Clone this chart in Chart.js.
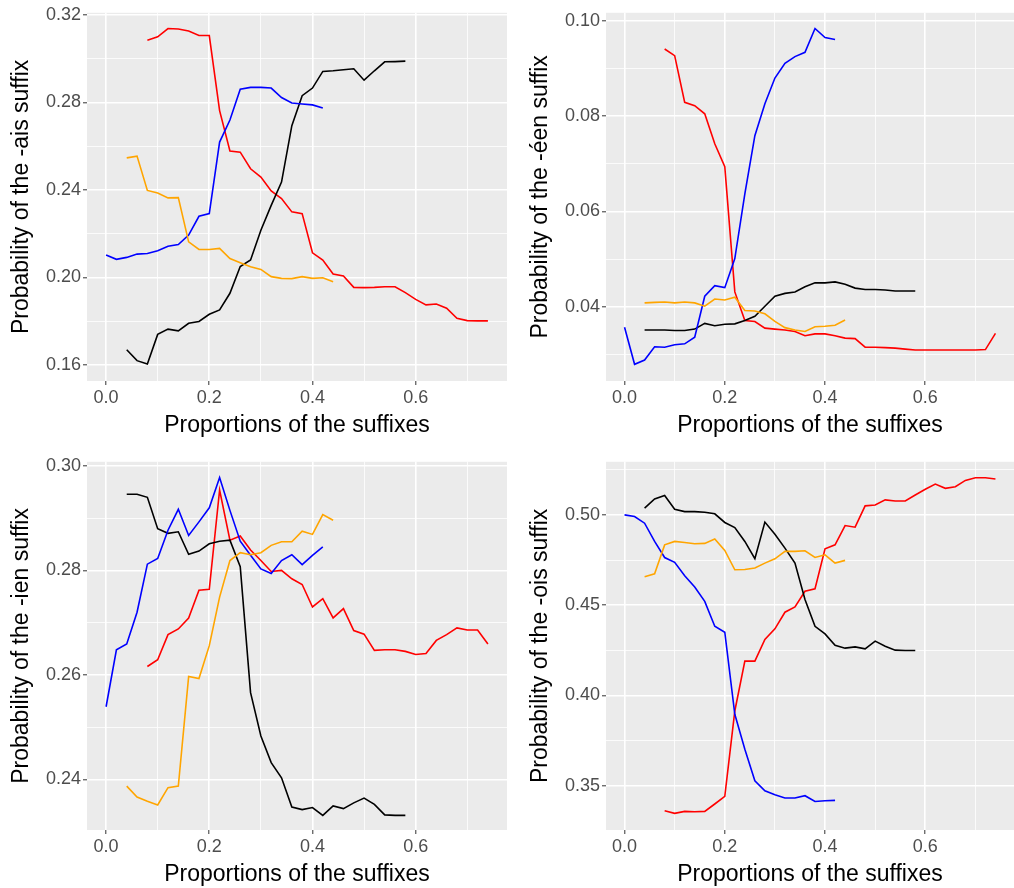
<!DOCTYPE html>
<html>
<head>
<meta charset="utf-8">
<script src="https://cdn.jsdelivr.net/npm/chart.js@4.4.0/dist/chart.umd.min.js"></script>
<style>
  body { margin: 0; background: #fff; overflow: hidden; }
  canvas { position: absolute; }
</style>
</head>
<body>
<canvas id="c1" width="507" height="444" style="left:0;top:0"></canvas>
<canvas id="c2" width="495" height="444" style="left:519px;top:0"></canvas>
<canvas id="c3" width="507" height="444" style="left:0;top:449px"></canvas>
<canvas id="c4" width="495" height="444" style="left:519px;top:449px"></canvas>
<script>
// x positions (proportions of the suffixes) for each series
const xBlue = [0, 0.02, 0.04, 0.06, 0.08, 0.10, 0.12, 0.14, 0.16, 0.18, 0.20, 0.22, 0.24, 0.26, 0.28, 0.30, 0.32, 0.34, 0.36, 0.38, 0.40, 0.42];
const xBlack = [0.04, 0.06, 0.08, 0.10, 0.12, 0.14, 0.16, 0.18, 0.20, 0.22, 0.24, 0.26, 0.28, 0.30, 0.32, 0.34, 0.36, 0.38, 0.40, 0.42, 0.44, 0.46, 0.48, 0.50, 0.52, 0.54, 0.56, 0.58];
const xOrange = [0.04, 0.06, 0.08, 0.10, 0.12, 0.14, 0.16, 0.18, 0.20, 0.22, 0.24, 0.26, 0.28, 0.30, 0.32, 0.34, 0.36, 0.38, 0.40, 0.42, 0.44];
const xRed = [0.08, 0.10, 0.12, 0.14, 0.16, 0.18, 0.20, 0.22, 0.24, 0.26, 0.28, 0.30, 0.32, 0.34, 0.36, 0.38, 0.40, 0.42, 0.44, 0.46, 0.48, 0.50, 0.52, 0.54, 0.56, 0.58, 0.60, 0.62, 0.64, 0.66, 0.68, 0.70, 0.72, 0.74];

const xTicks = [0, 0.2, 0.4, 0.6];
const xMinor = [0.1, 0.3, 0.5, 0.7];

// -ais
const aisBlue = [0.2103,0.2083,0.2092,0.2107,0.2110,0.2122,0.2143,0.2151,0.2194,0.2280,0.2292,0.2619,0.2720,0.2861,0.2869,0.2869,0.2866,0.2823,0.2798,0.2793,0.2789,0.2775];
const aisBlack = [0.1670,0.1620,0.1605,0.1740,0.1764,0.1756,0.1791,0.1799,0.1832,0.1852,0.1928,0.2050,0.2080,0.2216,0.2330,0.2436,0.2694,0.2831,0.2866,0.2942,0.2945,0.2950,0.2954,0.2902,0.2945,0.2986,0.2987,0.2989];
const aisOrange = [0.2547,0.2555,0.2398,0.2386,0.2364,0.2365,0.2163,0.2128,0.2128,0.2133,0.2087,0.2068,0.2049,0.2037,0.2004,0.1996,0.1995,0.2004,0.1996,0.1999,0.1981];
const aisRed = [0.3085,0.3100,0.3138,0.3136,0.3127,0.3106,0.3106,0.2763,0.2578,0.2573,0.2497,0.2459,0.2396,0.2361,0.2300,0.2292,0.2113,0.2080,0.2016,0.2007,0.1955,0.1954,0.1955,0.1958,0.1958,0.1931,0.1900,0.1875,0.1879,0.1860,0.1814,0.1803,0.1802,0.1802];
const aisTicks = [0.16, 0.20, 0.24, 0.28, 0.32];
const aisMinor = [0.18, 0.22, 0.26, 0.30];

// -éen
const eenBlue = [0.0357,0.0279,0.0288,0.0316,0.0315,0.0320,0.0322,0.0336,0.0422,0.0444,0.0440,0.0501,0.0637,0.0759,0.0826,0.0880,0.0911,0.0925,0.0934,0.0984,0.0965,0.0961];
const eenBlack = [0.0351,0.0351,0.0351,0.0350,0.0350,0.0353,0.0365,0.0360,0.0363,0.0364,0.0371,0.0380,0.0401,0.0422,0.0428,0.0431,0.0442,0.0450,0.0450,0.0452,0.0447,0.0439,0.0436,0.0436,0.0435,0.0433,0.0433,0.0433];
const eenOrange = [0.0408,0.0409,0.0410,0.0408,0.0410,0.0408,0.0401,0.0416,0.0414,0.0420,0.0392,0.0391,0.0385,0.0369,0.0356,0.0351,0.0348,0.0358,0.0359,0.0361,0.0372];
const eenRed = [0.0941,0.0927,0.0829,0.0822,0.0805,0.0742,0.0694,0.0431,0.0371,0.0369,0.0355,0.0353,0.0351,0.0348,0.0339,0.0343,0.0343,0.0339,0.0334,0.0333,0.0315,0.0315,0.0314,0.0313,0.0311,0.0309,0.0309,0.0309,0.0309,0.0309,0.0309,0.0309,0.0310,0.0344];
const eenTicks = [0.04, 0.06, 0.08, 0.10];
const eenMinor = [0.03, 0.05, 0.07, 0.09];

// -ien
const ienBlue = [0.2539,0.2648,0.2659,0.2720,0.2812,0.2823,0.2877,0.2917,0.2867,0.2893,0.2920,0.2978,0.2915,0.2856,0.2829,0.2803,0.2794,0.2819,0.2830,0.2811,0.2829,0.2845];
const ienBlack = [0.2946,0.2946,0.2940,0.2880,0.2871,0.2874,0.2831,0.2837,0.2851,0.2856,0.2858,0.2807,0.2566,0.2483,0.2432,0.2403,0.2347,0.2342,0.2346,0.2331,0.2349,0.2344,0.2355,0.2364,0.2352,0.2332,0.2331,0.2331];
const ienOrange = [0.2387,0.2366,0.2358,0.2351,0.2384,0.2387,0.2597,0.2593,0.2656,0.2749,0.2819,0.2834,0.2830,0.2834,0.2848,0.2855,0.2855,0.2875,0.2869,0.2907,0.2896];
const ienRed = [0.2616,0.2629,0.2677,0.2688,0.2709,0.2762,0.2764,0.2954,0.2858,0.2866,0.2839,0.2819,0.2798,0.2800,0.2784,0.2773,0.2730,0.2746,0.2709,0.2727,0.2685,0.2678,0.2647,0.2648,0.2648,0.2645,0.2639,0.2641,0.2666,0.2677,0.2690,0.2686,0.2686,0.2659];
const ienTicks = [0.24, 0.26, 0.28, 0.30];
const ienMinor = [0.25, 0.27, 0.29];

// -ois
const oisBlue = [0.5000,0.4991,0.4954,0.4853,0.4764,0.4737,0.4663,0.4601,0.4521,0.4383,0.4350,0.3896,0.3702,0.3528,0.3472,0.3450,0.3432,0.3432,0.3445,0.3413,0.3417,0.3419];
const oisBlack = [0.5037,0.5088,0.5107,0.5031,0.5018,0.5018,0.5015,0.5006,0.4958,0.4930,0.4853,0.4757,0.4960,0.4893,0.4816,0.4733,0.4531,0.4383,0.4341,0.4278,0.4262,0.4269,0.4258,0.4301,0.4273,0.4251,0.4249,0.4249];
const oisOrange = [0.4658,0.4674,0.4834,0.4853,0.4847,0.4840,0.4842,0.4866,0.4803,0.4696,0.4698,0.4706,0.4733,0.4757,0.4798,0.4798,0.4801,0.4764,0.4779,0.4733,0.4748];
const oisRed = [0.3362,0.3347,0.3358,0.3356,0.3358,0.3399,0.3441,0.3914,0.4190,0.4190,0.4310,0.4369,0.4461,0.4490,0.4577,0.4591,0.4812,0.4834,0.4941,0.4932,0.5050,0.5055,0.5083,0.5077,0.5077,0.5110,0.5142,0.5171,0.5147,0.5156,0.5191,0.5206,0.5206,0.5199];
const oisTicks = [0.35, 0.40, 0.45, 0.50];
const oisMinor = [0.375, 0.425, 0.475, 0.525];

const FONT = '"Liberation Sans", Arial, sans-serif';

// grey panel background like ggplot
const panelBg = {
    id: 'panelBg',
    beforeDraw(chart) {
        const a = chart.chartArea;
        chart.ctx.save();
        chart.ctx.fillStyle = '#EBEBEB';
        chart.ctx.fillRect(a.left, a.top, a.right - a.left, a.bottom - a.top);
        chart.ctx.restore();
    }
};

function toPoints(xs, ys) {
    return xs.map((x, i) => ({ x: x, y: ys[i] }));
}

function isMajor(v, major) {
    return major.some(m => Math.abs(m - v) < 1e-9);
}

function axis(major, minor, min, max, digits, title, fitSize, isY) {
    return {
        type: 'linear',
        min: min,
        max: max,
        afterBuildTicks: s => {
            s.ticks = major.concat(minor).sort((a, b) => a - b).map(v => ({ value: v }));
        },
        afterFit: s => {
            if (isY) s.width = fitSize; else s.height = fitSize;
        },
        border: { display: false },
        grid: {
            color: '#FFFFFF',
            lineWidth: c => isMajor(c.tick.value, major) ? 1.6 : 0.8,
            tickColor: c => isMajor(c.tick.value, major) ? '#333333' : 'rgba(0,0,0,0)',
            tickLength: 4,
            tickWidth: 1
        },
        ticks: {
            autoSkip: false,
            maxRotation: 0,
            padding: 2,
            color: '#4D4D4D',
            font: { family: FONT, size: 18 },
            callback: v => isMajor(v, major) ? v.toFixed(digits) : ''
        },
        title: {
            display: true,
            text: title,
            color: '#000000',
            font: { family: FONT, size: 23 },
            padding: isY ? { top: 8, bottom: 2 } : { top: 2, bottom: 5 }
        }
    };
}

function makePanel(id, yTitle, yMin, yMax, yTicks, yMinor, blue, black, orange, red) {
    const line = (label, xs, ys, color) => ({
        label: label,
        data: toPoints(xs, ys),
        borderColor: color,
        borderWidth: 1.6,
        pointRadius: 0,
        tension: 0,
        fill: false
    });
    new Chart(document.getElementById(id), {
        type: 'line',
        data: {
            datasets: [
                line('orange', xOrange, orange, '#FFA500'),
                line('blue', xBlue, blue, '#0000FF'),
                line('black', xBlack, black, '#000000'),
                line('red', xRed, red, '#FF0000')
            ]
        },
        options: {
            responsive: false,
            animation: false,
            layout: { padding: { top: 12, right: 0, left: 0, bottom: 0 } },
            plugins: { legend: { display: false }, tooltip: { enabled: false } },
            scales: {
                x: axis(xTicks, xMinor, -0.037, 0.777, 1, 'Proportions of the suffixes', 63, false),
                y: axis(yTicks, yMinor, yMin, yMax, 2, yTitle, 87, true)
            }
        },
        plugins: [panelBg]
    });
}

makePanel('c1', 'Probability of the -ais suffix', 0.1527, 0.3210, aisTicks, aisMinor, aisBlue, aisBlack, aisOrange, aisRed);
makePanel('c2', 'Probability of the -éen suffix', 0.0244, 0.1017, eenTicks, eenMinor, eenBlue, eenBlack, eenOrange, eenRed);
makePanel('c3', 'Probability of the -ien suffix', 0.2303, 0.3008, ienTicks, ienMinor, ienBlue, ienBlack, ienOrange, ienRed);
makePanel('c4', 'Probability of the -ois suffix', 0.3255, 0.5294, oisTicks, oisMinor, oisBlue, oisBlack, oisOrange, oisRed);
</script>
</body>
</html>
